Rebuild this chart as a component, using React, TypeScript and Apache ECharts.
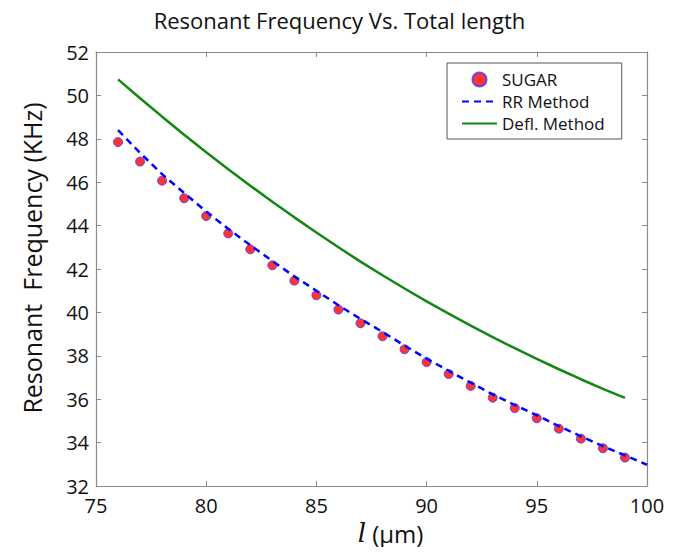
import React, { useEffect, useRef } from "react";
import * as echarts from "echarts";

const sugarX = [76, 77, 78, 79, 80, 81, 82, 83, 84, 85, 86, 87, 88, 89, 90, 91, 92, 93, 94, 95, 96, 97, 98, 99];
const sugarY = [47.85, 46.95, 46.07, 45.26, 44.44, 43.64, 42.91, 42.17, 41.46, 40.79, 40.13, 39.5, 38.9, 38.3, 37.71, 37.16, 36.61, 36.07, 35.59, 35.12, 34.64, 34.18, 33.74, 33.31];

const rrX = [76, 77, 78, 79, 80, 81, 82, 83, 84, 85, 86, 87, 88, 89, 90, 91, 92, 93, 94, 95, 96, 97, 98, 99, 100];
const rrY = [48.4, 47.35, 46.37, 45.5, 44.65, 43.85, 43.1, 42.37, 41.66, 41.0, 40.33, 39.7, 39.1, 38.47, 37.87, 37.31, 36.76, 36.22, 35.73, 35.26, 34.76, 34.29, 33.84, 33.41, 32.98];

const deflX = [76, 77, 78, 79, 80, 81, 82, 83, 84, 85, 86, 87, 88, 89, 90, 91, 92, 93, 94, 95, 96, 97, 98, 99];
const deflY = [50.74, 49.87, 49.02, 48.19, 47.38, 46.6, 45.84, 45.1, 44.38, 43.68, 43.0, 42.34, 41.71, 41.1, 40.51, 39.94, 39.39, 38.86, 38.35, 37.86, 37.38, 36.92, 36.48, 36.06];

const seriesNames = ["SUGAR", "RR Method", "Defl. Method"];
const titleText = "Resonant Frequency Vs. Total length";
const yName = "Resonant  Frequency (KHz)";

const FONT = "'Open Sans', 'Noto Sans', sans-serif";

function pairs(xs: number[], ys: number[]) {
  return xs.map((x, i) => [x, ys[i]]);
}

export default function App() {
  const ref = useRef<HTMLDivElement>(null);
  useEffect(() => {
    if (!ref.current) return;
    const chart = echarts.init(ref.current, undefined, { renderer: "svg" });
    const axisLine = { show: true, lineStyle: { color: "#8a8a8a", width: 1.2 } };
    const axisTick = { show: true, inside: true, length: 5, lineStyle: { color: "#8a8a8a" } };
    const hiddenSymbol = { color: "rgba(0,0,0,0)", borderWidth: 0 };
    chart.setOption({
      animation: false,
      backgroundColor: "#ffffff",
      title: {
        text: titleText,
        left: "center",
        top: 4,
        textStyle: { fontFamily: FONT, fontSize: 22, fontWeight: "normal", color: "#111" },
      },
      grid: { left: 96, right: 32, top: 52, bottom: 69, containLabel: false },
      legend: {
        orient: "vertical",
        left: 447,
        top: 63,
        padding: [8, 17, 7, 14],
        itemGap: 5,
        itemWidth: 35,
        itemHeight: 14,
        borderColor: "#555",
        borderWidth: 1,
        borderRadius: 0,
        backgroundColor: "#fff",
        textStyle: { fontFamily: FONT, fontSize: 17, color: "#111" },
        data: [
          { name: seriesNames[0] },
          { name: seriesNames[1], itemStyle: hiddenSymbol },
          { name: seriesNames[2], itemStyle: hiddenSymbol },
        ],
      },
      xAxis: [
        {
          type: "value",
          min: 75,
          max: 100,
          interval: 5,
          axisLine,
          axisTick,
          splitLine: { show: false },
          axisLabel: { fontFamily: FONT, fontSize: 20, color: "#111", margin: 9 },
          name: "{i|l} (μm)",
          nameLocation: "middle",
          nameGap: 34,
          nameTextStyle: {
            fontFamily: FONT,
            fontSize: 24,
            color: "#111",
            padding: [0, 0, 0, 38],
            rich: {
              i: { fontFamily: "'DejaVu Serif', serif", fontStyle: "italic", fontSize: 26, color: "#111" },
            },
          },
        },
        {
          type: "value",
          position: "top",
          min: 75,
          max: 100,
          interval: 5,
          axisLine,
          axisTick,
          splitLine: { show: false },
          axisLabel: { show: false },
        },
      ],
      yAxis: [
        {
          type: "value",
          min: 32,
          max: 52,
          interval: 2,
          axisLine,
          axisTick,
          splitLine: { show: false },
          axisLabel: { fontFamily: FONT, fontSize: 20, color: "#111", margin: 7 },
          name: yName,
          nameLocation: "middle",
          nameGap: 52,
          nameTextStyle: { fontFamily: FONT, fontSize: 25, color: "#111", padding: [0, 0, 0, 22] },
        },
        {
          type: "value",
          position: "right",
          min: 32,
          max: 52,
          interval: 2,
          axisLine,
          axisTick,
          splitLine: { show: false },
          axisLabel: { show: false },
        },
      ],
      series: [
        {
          name: seriesNames[0],
          type: "scatter",
          data: pairs(sugarX, sugarY),
          symbol: "circle",
          symbolSize: 9,
          itemStyle: { color: "#ff0000", borderColor: "#3b3bff", borderWidth: 1 },
          z: 2,
        },
        {
          name: seriesNames[1],
          type: "line",
          data: pairs(rrX, rrY),
          symbol: "none",
          smooth: false,
          lineStyle: { color: "#0000ff", width: 2.5, type: [7, 5] },
          itemStyle: { color: "#0000ff" },
          z: 3,
        },
        {
          name: seriesNames[2],
          type: "line",
          data: pairs(deflX, deflY),
          symbol: "none",
          smooth: false,
          lineStyle: { color: "#118811", width: 2.5 },
          itemStyle: { color: "#118811" },
          z: 3,
        },
      ],
    });
    return () => chart.dispose();
  }, []);
  return <div ref={ref} style={{ width: 679, height: 555, margin: -8 }} />;
}
